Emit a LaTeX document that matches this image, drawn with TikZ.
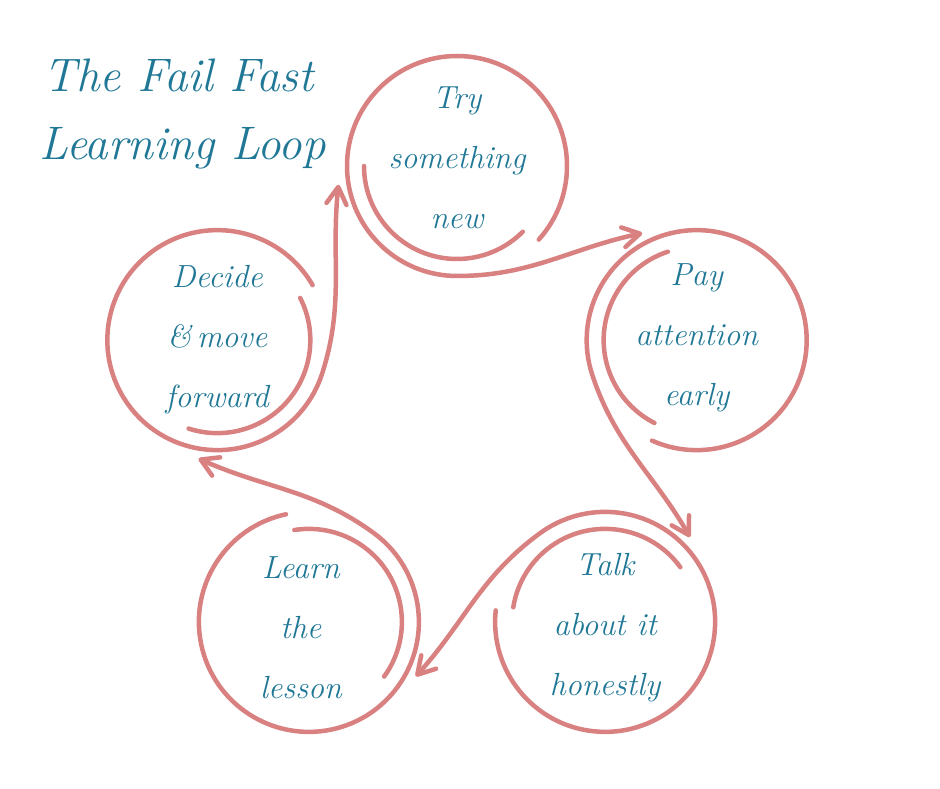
\documentclass[tikz,border=0pt]{standalone}
\usetikzlibrary{arrows.meta}
\definecolor{ring}{RGB}{217,128,128}
\definecolor{inkteal}{RGB}{32,120,150}
\begin{document}
\begin{tikzpicture}[x=1pt,y=1pt,
  ringline/.style={draw=ring, line width=4.5pt, line cap=round},
  arrowline/.style={ringline, -{Straight Barb[length=17pt,width=20pt,round]}},
  steptext/.style={text=inkteal, font=\fontsize{32}{60}\selectfont\itshape, align=center},
  titletext/.style={text=inkteal, font=\fontsize{47}{60}\selectfont\itshape, anchor=base west}]
\useasboundingbox (0,0) rectangle (940,788);
\coordinate (P) at (457,370);
\foreach \k in {0,...,4} {
  \path (P) ++ ({90-72*\k}:252) coordinate (c\k);
}
% titles
\node[titletext] (title1) at (40,696) {The Fail Fast};
\node[titletext] (title2) at (36,628) {Learning Loop};
% step texts
\node[steptext] (n0) at ([yshift=8pt]c0) {Try\\something\\new};
\node[steptext] (n1) at ([yshift=2pt]c1) {Pay\\attention\\early};
\node[steptext] (n2) at ([yshift=-6pt]c2) {Talk\\about it\\honestly};
\node[steptext] (n3) at ([xshift=-8pt,yshift=-6pt]c3) {Learn\\the\\lesson};
\node[steptext] (n4) at (c4) {Decide\\\&\,move\\forward};
% rings and arrows
\foreach \k/\m in {0/1,1/2,2/3,3/4,4/0} {
  \pgfmathsetmacro\r{-72*\k}
  \path (c\k) ++ ({-42+\r}:110) coordinate (s\k);
  \path (c\k) ++ ({180+\r}:93) coordinate (i\k);
  \path (c\m) ++ ({117+\r}:120) coordinate (t\k);
  \draw[arrowline] (s\k) arc[start angle={-42+\r}, end angle={270+\r}, radius=110]
     to[out={0+\r}, in={192+\r}] (t\k);
  \draw[ringline] (i\k) arc[start angle={180+\r}, end angle={315+\r}, radius=93];
}
\end{tikzpicture}
\end{document}
